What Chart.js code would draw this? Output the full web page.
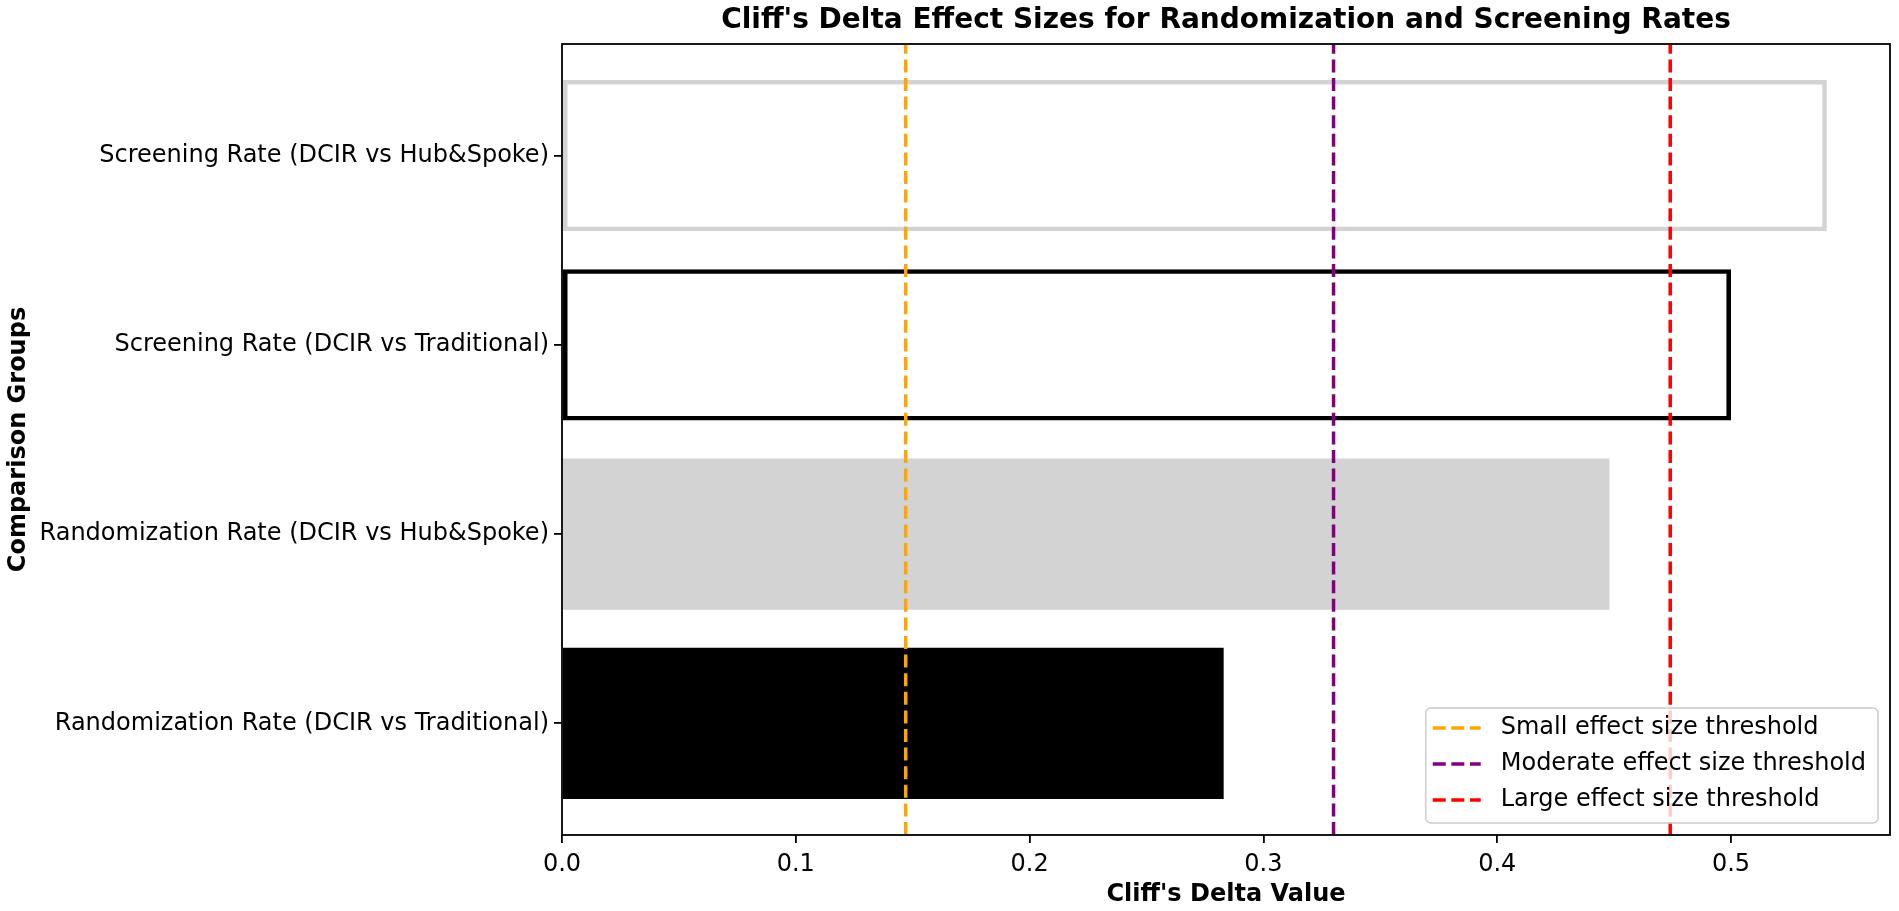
<!DOCTYPE html>
<html>
<head>
<meta charset="utf-8">
<script src="https://cdn.jsdelivr.net/npm/chart.js@4.4.1/dist/chart.umd.min.js"></script>
<style>
  html, body { margin: 0; padding: 0; background: #fff; }
  canvas { display: block; }
</style>
</head>
<body>
<canvas id="chart" width="1899" height="911"></canvas>
<script>
// Comparison groups, bottom to top as on the y axis
const groups = [
  "Randomization Rate (DCIR vs Traditional)",
  "Randomization Rate (DCIR vs Hub&Spoke)",
  "Screening Rate (DCIR vs Traditional)",
  "Screening Rate (DCIR vs Hub&Spoke)",
];
// Cliff's delta for each group
const deltaValues = [0.283, 0.448, 0.500, 0.541];

// Effect size thresholds (dashed lines)
const thresholdLabels = [
  "Small effect size threshold",
  "Moderate effect size threshold",
  "Large effect size threshold",
];
const thresholdValues = [0.147, 0.33, 0.474];

// Axis ticks / limits
const xTicks = [0.0, 0.1, 0.2, 0.3, 0.4, 0.5];
const xMax = 0.568;
const yMin = -0.59;
const yMax = 3.59;

// Styles
const barFills = ["#000000", "#d3d3d3", "rgba(0,0,0,0)", "rgba(0,0,0,0)"];
const barEdges = ["#000000", "#d3d3d3", "#000000", "#d3d3d3"];
const barEdgeWidths = [0, 0, 4.6, 4.6];
const thresholdColors = ["orange", "purple", "red"];

const FONT = "'DejaVu Sans', 'Liberation Sans', sans-serif";
Chart.defaults.color = "#000";
Chart.defaults.font.family = FONT;

// Draws the plot frame and the legend box in the lower right corner
const frameAndLegend = {
  id: "frameAndLegend",
  afterDraw(chart) {
    const { ctx, chartArea } = chart;
    ctx.save();
    ctx.setLineDash([]);
    ctx.strokeStyle = "#000";
    ctx.lineWidth = 1.8;
    ctx.strokeRect(chartArea.left, chartArea.top, chartArea.width, chartArea.height);

    const items = chart.data.datasets.filter((d) => d.type === "line");
    ctx.font = "24px " + FONT;
    const textW = Math.max(...items.map((d) => ctx.measureText(d.label).width));
    const boxW = 7 + 48 + 20 + textW + 12;
    const boxH = 115;
    const x0 = chartArea.right - 12 - boxW;
    const y0 = chartArea.bottom - 12 - boxH;

    ctx.beginPath();
    ctx.roundRect(x0, y0, boxW, boxH, 5);
    ctx.fillStyle = "rgba(255,255,255,0.8)";
    ctx.fill();
    ctx.strokeStyle = "#cccccc";
    ctx.lineWidth = 1.5;
    ctx.stroke();

    items.forEach((d, i) => {
      const y = y0 + 20 + i * 36;
      ctx.beginPath();
      ctx.setLineDash(d.borderDash);
      ctx.strokeStyle = d.borderColor;
      ctx.lineWidth = d.borderWidth;
      ctx.moveTo(x0 + 7, y);
      ctx.lineTo(x0 + 55, y);
      ctx.stroke();
      ctx.setLineDash([]);
      ctx.fillStyle = "#000";
      ctx.textAlign = "left";
      ctx.textBaseline = "middle";
      ctx.fillText(d.label, x0 + 75, y);
    });
    ctx.restore();
  },
};

const barDataset = {
  type: "bar",
  data: deltaValues.map((v, i) => ({ x: v, y: i })),
  backgroundColor: barFills,
  borderColor: barEdges,
  borderWidth: barEdgeWidths,
  borderSkipped: false,
  categoryPercentage: 0.8,
  barPercentage: 1.0,
  order: 2,
};

const lineDatasets = thresholdValues.map((t, i) => ({
  type: "line",
  label: thresholdLabels[i],
  data: [
    { x: t, y: yMin },
    { x: t, y: yMax },
  ],
  borderColor: thresholdColors[i],
  borderWidth: 3.5,
  borderDash: [13, 5.6],
  pointRadius: 0,
  fill: false,
  order: 1,
}));

new Chart(document.getElementById("chart"), {
  type: "bar",
  data: { datasets: [barDataset, ...lineDatasets] },
  options: {
    indexAxis: "y",
    responsive: false,
    devicePixelRatio: 1,
    animation: false,
    layout: { padding: { left: 0, right: 9, top: 0, bottom: 0 } },
    plugins: {
      legend: { display: false },
      tooltip: { enabled: false },
      title: {
        display: true,
        fullSize: false,
        text: "Cliff's Delta Effect Sizes for Randomization and Screening Rates",
        color: "#000",
        font: { size: 28, weight: "bold", lineHeight: 1.2 },
        padding: { top: 4, bottom: 6.4 },
      },
    },
    scales: {
      x: {
        type: "linear",
        min: 0,
        max: xMax,
        afterFit(scale) {
          scale.height = 76;
        },
        afterBuildTicks(scale) {
          scale.ticks = xTicks.map((v) => ({ value: v }));
        },
        ticks: {
          callback: (v) => Number(v).toFixed(1),
          color: "#000",
          font: { size: 24 },
          padding: 7,
        },
        grid: {
          drawOnChartArea: false,
          drawTicks: true,
          tickLength: 8,
          color: "#000",
          lineWidth: 1.8,
        },
        border: { display: false },
        title: {
          display: true,
          text: "Cliff's Delta Value",
          color: "#000",
          font: { size: 24, weight: "bold", lineHeight: 1.2 },
          padding: { top: 0, bottom: 2 },
        },
      },
      y: {
        type: "linear",
        min: yMin,
        max: yMax,
        offset: false,
        afterFit(scale) {
          scale.width = 562;
        },
        afterBuildTicks(scale) {
          scale.ticks = groups.map((g, i) => ({ value: i }));
        },
        ticks: {
          callback: (v) => groups[Math.round(v)],
          color: "#000",
          font: { size: 24 },
          padding: 5,
        },
        grid: {
          offset: false,
          drawOnChartArea: false,
          drawTicks: true,
          tickLength: 8,
          color: "#000",
          lineWidth: 1.8,
        },
        border: { display: false },
        title: {
          display: true,
          text: "Comparison Groups",
          color: "#000",
          font: { size: 24, weight: "bold", lineHeight: 1.2 },
          padding: { top: 4, bottom: 0 },
        },
      },
    },
  },
  plugins: [frameAndLegend],
});
</script>
</body>
</html>
